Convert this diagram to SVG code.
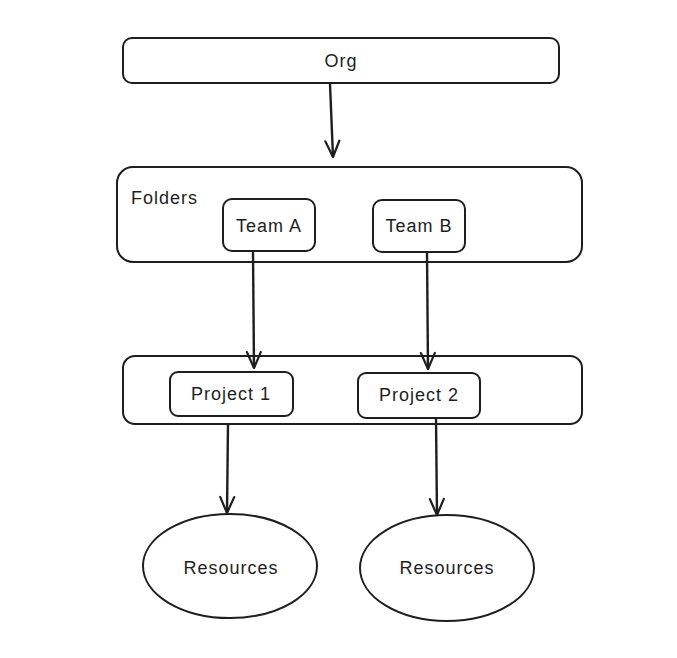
<svg xmlns="http://www.w3.org/2000/svg" width="677" height="658" viewBox="0 0 677 658">
<defs>
<style>
.box{fill:none;stroke:#1e1e1e;stroke-width:2;}
.lbl{font-family:"Liberation Sans",Arial,sans-serif;font-size:18px;letter-spacing:1px;fill:#1e1e1e;text-anchor:middle;dominant-baseline:central;}
.edge{fill:none;stroke:#1e1e1e;stroke-width:2.4;}
.head{fill:none;stroke:#1e1e1e;stroke-width:2.2;stroke-linecap:round;stroke-linejoin:round;}
</style>
<marker id="arr" viewBox="0 0 20 20" refX="18" refY="10" markerWidth="20" markerHeight="20" markerUnits="userSpaceOnUse" orient="auto">
<path class="head" d="M2 3 L18 10 L2 17"/>
</marker>
</defs>
<rect width="677" height="658" fill="#ffffff"/>
<g id="org">
<rect class="box" x="123" y="38" width="436" height="45" rx="9"/>
<text class="lbl" x="341" y="61">Org</text>
</g>
<g id="folders">
<rect class="box" x="117" y="167" width="465" height="95" rx="16"/>
<text class="lbl" x="131" y="198" style="text-anchor:start">Folders</text>
</g>
<g id="teamA">
<rect class="box" x="223" y="199" width="92" height="52" rx="9"/>
<text class="lbl" x="269" y="226">Team A</text>
</g>
<g id="teamB">
<rect class="box" x="373" y="200" width="92" height="52" rx="9"/>
<text class="lbl" x="419" y="226">Team B</text>
</g>
<g id="projects">
<rect class="box" x="123" y="356" width="459" height="68" rx="12"/>
</g>
<g id="project1">
<rect class="box" x="170" y="372" width="123" height="44" rx="8"/>
<text class="lbl" x="231" y="394">Project 1</text>
</g>
<g id="project2">
<rect class="box" x="358" y="373" width="122" height="45" rx="8"/>
<text class="lbl" x="419" y="395">Project 2</text>
</g>
<g id="res1">
<ellipse class="box" cx="230" cy="566" rx="87" ry="52"/>
<text class="lbl" x="231" y="568">Resources</text>
</g>
<g id="res2">
<ellipse class="box" cx="447" cy="568" rx="87" ry="53"/>
<text class="lbl" x="447" y="568">Resources</text>
</g>
<g id="connectors">
<path class="edge" d="M330 84 L333 157" marker-end="url(#arr)"/>
<path class="edge" d="M253 252 L254 368" marker-end="url(#arr)"/>
<path class="edge" d="M427 252 L428 369" marker-end="url(#arr)"/>
<path class="edge" d="M228 424 L227 513" marker-end="url(#arr)"/>
<path class="edge" d="M436 418 L437 515" marker-end="url(#arr)"/>
</g>
</svg>
